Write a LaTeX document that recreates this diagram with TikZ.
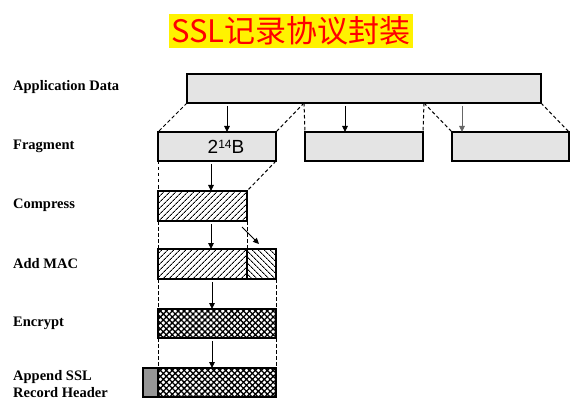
\documentclass[tikz,border=0pt]{standalone}
\usepackage{fontspec}
\setmainfont{Liberation Serif}
\newfontfamily\cjkfont{Noto Sans CJK SC}
\newfontfamily\arialfont{Liberation Sans}
\usetikzlibrary{arrows.meta,patterns.meta,calc}
\definecolor{boxgray}{RGB}{228,228,228}
\definecolor{hdrgray}{RGB}{150,150,150}
\begin{document}
\begin{tikzpicture}[x=1pt,y=-1pt,
  box/.style={draw,line width=1.4pt,inner sep=0pt,outer sep=0pt,anchor=north west},
  plain/.style={box,fill=boxgray},
  hatchne/.style={box,pattern={Lines[angle=45,distance=4pt,line width=1pt]}},
  hatchnw/.style={box,pattern={Lines[angle=-45,distance=4pt,line width=1pt]}},
  cross/.style={box,pattern={Hatch[angle=45,distance=4.2pt,line width=1.3pt]}},
  lbl/.style={anchor=west,inner sep=0pt,font=\bfseries\fontsize{14.5}{17}\selectfont,align=left},
  arr/.style={line width=0.9pt,-{Triangle[length=6pt,width=5.5pt]}},
  dsh/.style={line width=1pt,dash pattern=on 3.5pt off 2.5pt}]
\useasboundingbox (0,0) rectangle (582,412);

% title
\node (title) [fill=yellow,text=red,inner xsep=2pt,inner ysep=0pt,minimum height=34pt,
  font=\cjkfont\fontsize{31}{31}\selectfont] at (291,31) {SSL记录协议封装};

% labels
\node (l1) [lbl] at (13,87) {Application Data};
\node (l2) [lbl] at (13,146) {Fragment};
\node (l3) [lbl] at (13,205) {Compress};
\node (l4) [lbl] at (13,264) {Add MAC};
\node (l5) [lbl] at (13,323) {Encrypt};
\node (l6) [lbl] at (13,384.5) {Append SSL\\Record Header};

% boxes
\node (app) [plain,minimum width=354pt,minimum height=29pt] at (187,74) {};
\node (f1) [plain,minimum width=118pt,minimum height=29pt] at (158,132) {};
\node (f2) [plain,minimum width=118pt,minimum height=29pt] at (305,132) {};
\node (f3) [plain,minimum width=117pt,minimum height=29pt] at (452,132) {};
\node (comp) [hatchne,minimum width=89pt,minimum height=30pt] at (158,191) {};
\node (mac1) [hatchne,minimum width=89pt,minimum height=30pt] at (158,249) {};
\node (mac2) [hatchnw,minimum width=29pt,minimum height=30pt] at (247,249) {};
\node (enc) [cross,minimum width=118pt,minimum height=29pt] at (158,309) {};
\node (hdr) [box,fill=hdrgray,minimum width=15pt,minimum height=29pt] at (143,368) {};
\node (rec) [cross,minimum width=118pt,minimum height=29pt] at (158,368) {};

\node (t14) [inner sep=0pt,font=\arialfont\fontsize{19}{19}\selectfont] at (226,147)
  {2\raisebox{5pt}{\fontsize{12}{12}\selectfont 14}B};

% split points
\coordinate (s1) at (304,103);
\coordinate (s2) at (424,103);

% dashed lines
\draw[dsh] (app.south west) -- (f1.north west);
\draw[dsh] (s1) -- (f1.north east);
\draw[dsh] (s1) -- (f2.north west);
\draw[dsh] (s2) -- (f2.north east);
\draw[dsh] (s2) -- (f3.north west);
\draw[dsh] (app.south east) -- (f3.north east);
\draw[dsh] (f1.south west) -- (comp.north west);
\draw[dsh] (f1.south east) -- (comp.north east);
\draw[dsh] (comp.south west) -- (mac1.north west);
\draw[dsh] (comp.south east) -- (mac1.north east);
\draw[dsh] (mac1.south west) -- (enc.north west);
\draw[dsh] (mac2.south east) -- (enc.north east);
\draw[dsh] (enc.south west) -- (rec.north west);
\draw[dsh] (enc.south east) -- (rec.north east);

% arrows
\coordinate (a1) at (227,106);
\coordinate (a2) at (345,106);
\coordinate (a3) at (462,106);
\coordinate (a4) at (211,164);
\coordinate (a5) at (211,224);
\coordinate (a6) at (212,282);
\coordinate (a7) at (212,341);
\coordinate (d1) at (242,227);
\coordinate (d2) at (259,244);
\draw[arr] (a1) -- (a1 |- f1.north);
\draw[arr] (a2) -- (a2 |- f2.north);
\draw[arr,draw=black!60,fill=black!60] (a3) -- (a3 |- f3.north);
\draw[arr] (a4) -- (a4 |- comp.north);
\draw[arr] (a5) -- (a5 |- mac1.north);
\draw[arr] (a6) -- (a6 |- enc.north);
\draw[arr] (a7) -- (a7 |- rec.north);
\draw[arr] (d1) -- (d2);
\end{tikzpicture}
\end{document}
